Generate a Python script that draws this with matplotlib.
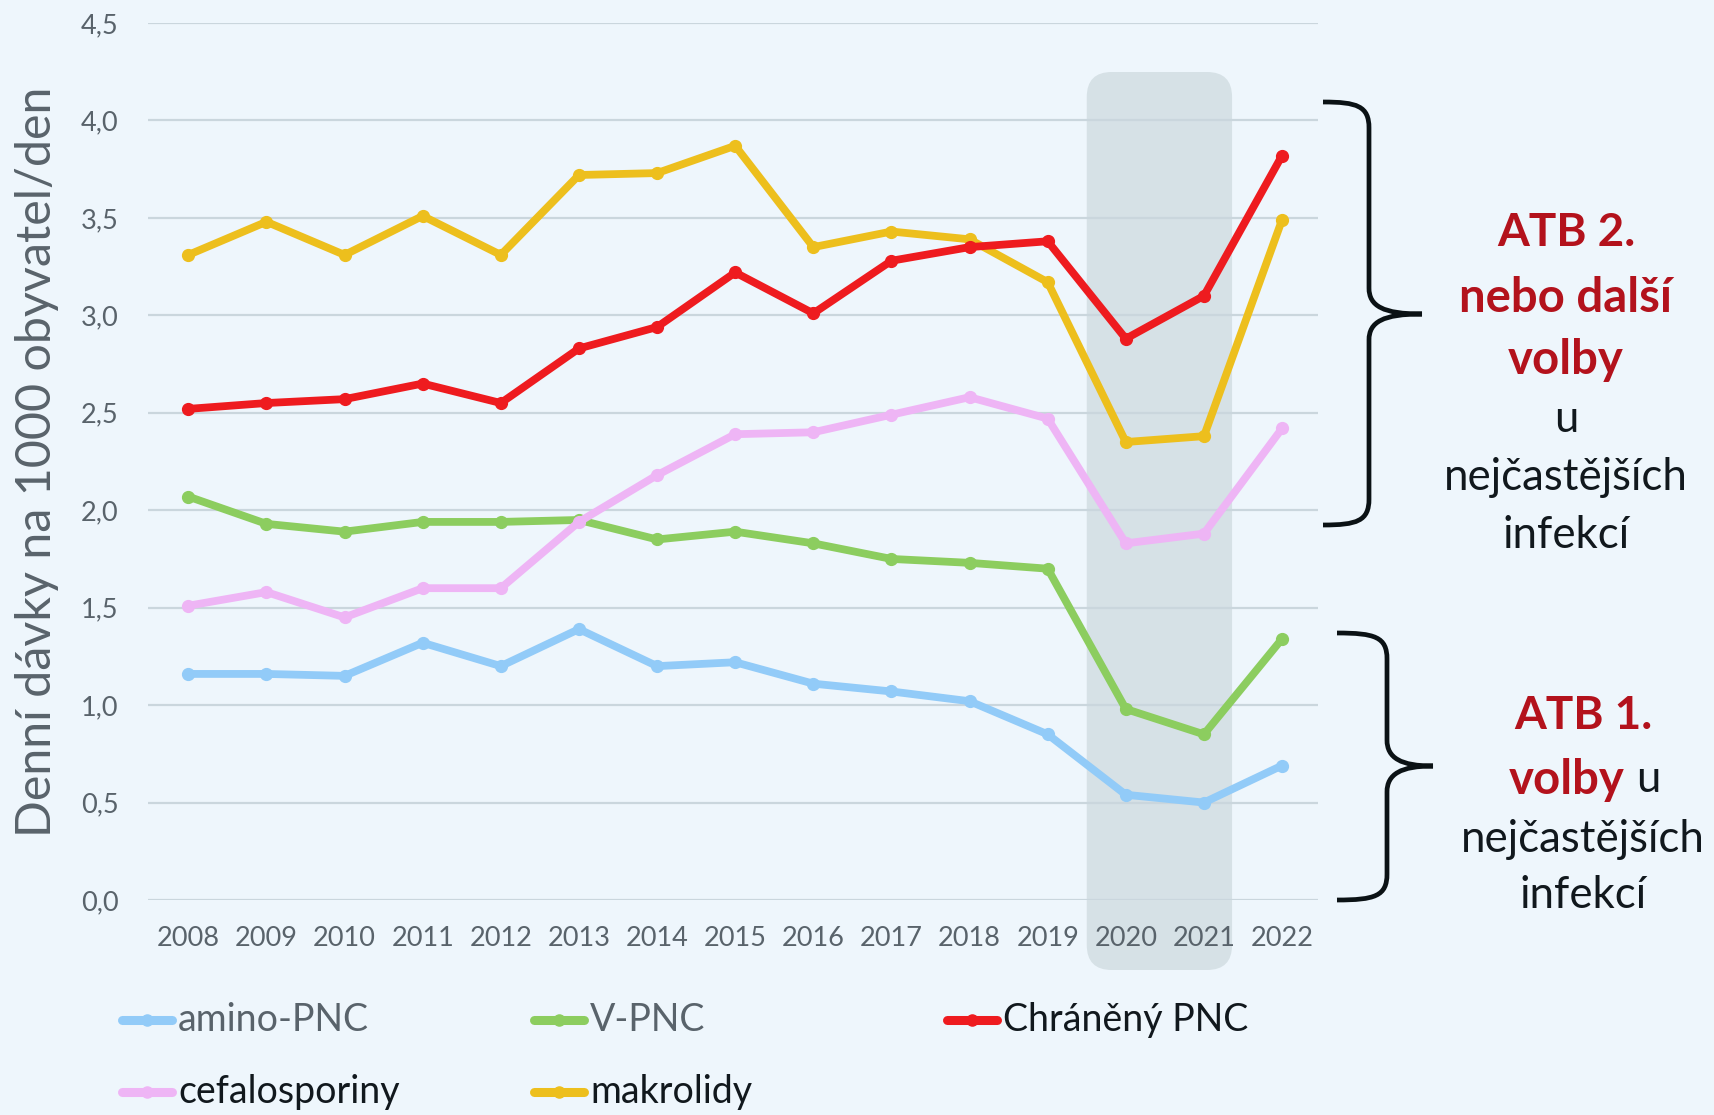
import matplotlib
matplotlib.use("Agg")
import matplotlib.pyplot as plt
from matplotlib.patches import FancyBboxPatch, PathPatch
from matplotlib.path import Path
from matplotlib.lines import Line2D
from matplotlib.transforms import IdentityTransform

years = list(range(2008, 2023))
amino_pnc = [1.16, 1.16, 1.15, 1.32, 1.20, 1.39, 1.20, 1.22, 1.11, 1.07, 1.02, 0.85, 0.54, 0.50, 0.69]
v_pnc = [2.07, 1.93, 1.89, 1.94, 1.94, 1.95, 1.85, 1.89, 1.83, 1.75, 1.73, 1.70, 0.98, 0.85, 1.34]
chraneny_pnc = [2.52, 2.55, 2.57, 2.65, 2.55, 2.83, 2.94, 3.22, 3.01, 3.28, 3.35, 3.38, 2.88, 3.10, 3.82]
cefalosporiny = [1.51, 1.58, 1.45, 1.60, 1.60, 1.94, 2.18, 2.39, 2.40, 2.49, 2.58, 2.47, 1.83, 1.88, 2.42]
makrolidy = [3.31, 3.48, 3.31, 3.51, 3.31, 3.72, 3.73, 3.87, 3.35, 3.43, 3.39, 3.17, 2.35, 2.38, 3.49]

series_names = ["amino-PNC", "V-PNC", "Chráněný PNC", "cefalosporiny", "makrolidy"]
series_values = [amino_pnc, v_pnc, chraneny_pnc, cefalosporiny, makrolidy]
series_colors = ["#92CBF8", "#8CCD5F", "#EE1B1F", "#EEB5F5", "#EDBF1D"]
legend_text_colors = ["#59636B", "#59636B", "#11181D", "#11181D", "#11181D"]
draw_order = [1, 0, 3, 4, 2]  # z-order of lines

yticks = [0.0, 0.5, 1.0, 1.5, 2.0, 2.5, 3.0, 3.5, 4.0, 4.5]
ytick_labels = ["0,0", "0,5", "1,0", "1,5", "2,0", "2,5", "3,0", "3,5", "4,0", "4,5"]
ylabel = "Denní dávky na 1000 obyvatel/den"
highlight = (2020, 2021)

FONT = ["Lato", "DejaVu Sans"]
plt.rcParams["font.family"] = FONT

W, H = 1715, 1115
BG = "#EEF6FC"
fig = plt.figure(figsize=(W / 100, H / 100), dpi=100, facecolor=BG)
ax = fig.add_axes([147.7 / W, 1 - 900 / H, (1318 - 147.7) / W, (900 - 23) / H])
ax.set_facecolor("none")

for k, i in enumerate(draw_order):
    ax.plot(years, series_values[i], color=series_colors[i], lw=5.6, marker="o",
            markersize=8.5, solid_capstyle="round", solid_joinstyle="round", zorder=3 + k)

ax.set_xlim(2007.48, 2022.46)
ax.set_ylim(0, 4.5)
ax.set_yticks(yticks)
ax.set_yticklabels(ytick_labels)
ax.set_xticks(years)
ax.set_xticklabels([str(y) for y in years])
ax.tick_params(axis="both", length=0, labelsize=19.5, labelcolor="#59636B")
ax.tick_params(axis="y", pad=21)
ax.tick_params(axis="x", pad=19)
ax.grid(axis="y", color="#CAD6DD", lw=1.6)
ax.set_axisbelow(True)
for s in ax.spines.values():
    s.set_visible(False)

fig.text(37 / W, 1 - 462 / H, ylabel, rotation=90, ha="center", va="center",
         fontsize=34.8, color="#59636B")

# highlight box for the covid years
fig.canvas.draw()
x0d, _ = ax.transData.transform((highlight[0] - 0.5, 0))
x1d, _ = ax.transData.transform((highlight[1] + 0.36, 0))
top_d = H - 72
bot_d = H - 970
box = FancyBboxPatch((x0d + 25, bot_d + 25), (x1d - x0d) - 50, (top_d - bot_d) - 50,
                     boxstyle="round,pad=25", transform=IdentityTransform(),
                     facecolor="#D6E1E6", edgecolor="none", zorder=0.1, clip_on=False)
ax.add_patch(box)


def brace(x_end, x_spine, x_tip, y_top, y_mid, y_bot):
    f = lambda x, y: (x, H - y)
    verts = [f(x_end, y_top),
             f(x_spine - 12, y_top), f(x_spine, y_top + 4), f(x_spine, y_top + 26),
             f(x_spine, y_mid - 26),
             f(x_spine, y_mid - 8), f(x_spine + 14, y_mid), f(x_tip, y_mid),
             f(x_spine + 14, y_mid), f(x_spine, y_mid + 8), f(x_spine, y_mid + 26),
             f(x_spine, y_bot - 26),
             f(x_spine, y_bot - 4), f(x_spine - 12, y_bot), f(x_end, y_bot)]
    codes = [Path.MOVETO, Path.CURVE4, Path.CURVE4, Path.CURVE4, Path.LINETO,
             Path.CURVE4, Path.CURVE4, Path.CURVE4, Path.CURVE4, Path.CURVE4, Path.CURVE4,
             Path.LINETO, Path.CURVE4, Path.CURVE4, Path.CURVE4]
    p = PathPatch(Path(verts, codes), transform=IdentityTransform(), facecolor="none",
                  edgecolor="#0B1215", lw=3.4, capstyle="butt", joinstyle="miter")
    fig.patches.append(p)
    p.set_figure(fig)


brace(1323, 1369, 1422, 102, 314, 525)
brace(1337, 1387, 1433, 633, 766, 900)

RED = "#B3121C"
DARK = "#11181D"


def ftext(x, y, s, **kw):
    fig.text(x / W, 1 - y / H, s, va="center", **kw)


ftext(1566, 233, "ATB 2.", ha="center", fontsize=33, fontweight="bold", color=RED)
ftext(1566, 298, "nebo další", ha="center", fontsize=34, fontweight="bold", color=RED)
ftext(1566, 360, "volby", ha="center", fontsize=34, fontweight="bold", color=RED)
ftext(1566, 419, "u", ha="center", fontsize=31.5, color=DARK)
ftext(1566, 477, "nejčastějších", ha="center", fontsize=31.5, color=DARK)
ftext(1566, 535, "infekcí", ha="center", fontsize=31.5, color=DARK)

ftext(1583, 716, "ATB 1.", ha="center", fontsize=33, fontweight="bold", color=RED)
ftext(1625, 780, "volby", ha="right", fontsize=34, fontweight="bold", color=RED)
ftext(1636, 780, "u", ha="left", fontsize=31.5, color=DARK)
ftext(1583, 839, "nejčastějších", ha="center", fontsize=31.5, color=DARK)
ftext(1583, 896, "infekcí", ha="center", fontsize=31.5, color=DARK)

# legend (manual, Excel style)
col_x = [118, 530, 943]
row_y = [1020, 1092]
positions = [(0, 0), (0, 1), (0, 2), (1, 0), (1, 1)]
for i, (r, c) in enumerate(positions):
    x = col_x[c]
    y = H - row_y[r]
    ln = Line2D([x + 4, x + 54], [y, y], transform=IdentityTransform(), color=series_colors[i],
                lw=6.5, solid_capstyle="round")
    fig.add_artist(ln)
    mk = Line2D([x + 29], [y], transform=IdentityTransform(), color=series_colors[i],
                marker="o", markersize=8, lw=0)
    fig.add_artist(mk)
    fig.text((x + 60) / W, y / H, series_names[i], ha="left", va="center",
             fontsize=27, color=legend_text_colors[i])

fig.savefig("out.png", dpi=100, facecolor=BG)
